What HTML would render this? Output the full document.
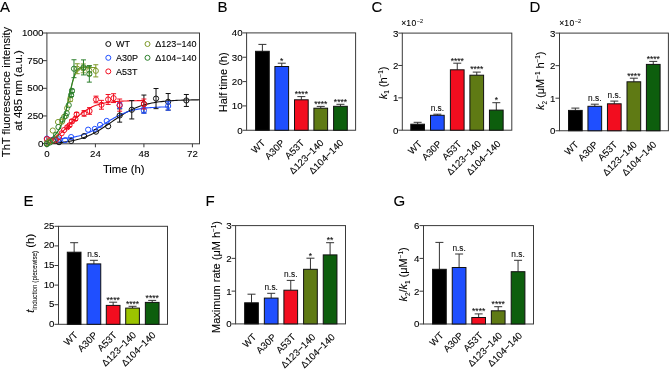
<!DOCTYPE html>
<html><head><meta charset="utf-8"><style>
html,body{margin:0;padding:0;background:#fff;width:670px;height:374px;overflow:hidden}
svg{display:block;font-family:"Liberation Sans", sans-serif;will-change:transform;filter:blur(0.3px)}
text{stroke:#000;stroke-width:0.1px}
tspan[font-size="6.3"],tspan[font-size="5.6"]{stroke-width:0.05px}
</style></head><body>
<svg width="670" height="374" viewBox="0 0 670 374">
<rect width="670" height="374" fill="#fff"/>
<text x="0.00" y="12.00" font-size="15" text-anchor="start" fill="#000" >A</text>
<text x="217.50" y="12.00" font-size="15" text-anchor="start" fill="#000" >B</text>
<text x="371.50" y="12.00" font-size="15" text-anchor="start" fill="#000" >C</text>
<text x="529.50" y="12.00" font-size="15" text-anchor="start" fill="#000" >D</text>
<text x="23.50" y="206.00" font-size="15" text-anchor="start" fill="#000" >E</text>
<text x="205.50" y="206.00" font-size="15" text-anchor="start" fill="#000" >F</text>
<text x="393.50" y="206.00" font-size="15" text-anchor="start" fill="#000" >G</text>
<rect x="246.60" y="32.90" width="109.00" height="97.35" fill="none" stroke="#3a3a3a" stroke-width="1"/>
<line x1="242.60" y1="130.25" x2="246.60" y2="130.25" stroke="#3a3a3a" stroke-width="1"/>
<text x="242.60" y="133.65" font-size="9.7" text-anchor="end" fill="#000" >0</text>
<line x1="242.60" y1="105.91" x2="246.60" y2="105.91" stroke="#3a3a3a" stroke-width="1"/>
<text x="242.60" y="109.31" font-size="9.7" text-anchor="end" fill="#000" >10</text>
<line x1="242.60" y1="81.58" x2="246.60" y2="81.58" stroke="#3a3a3a" stroke-width="1"/>
<text x="242.60" y="84.98" font-size="9.7" text-anchor="end" fill="#000" >20</text>
<line x1="242.60" y1="57.24" x2="246.60" y2="57.24" stroke="#3a3a3a" stroke-width="1"/>
<text x="242.60" y="60.64" font-size="9.7" text-anchor="end" fill="#000" >30</text>
<line x1="242.60" y1="32.90" x2="246.60" y2="32.90" stroke="#3a3a3a" stroke-width="1"/>
<text x="242.60" y="36.30" font-size="9.7" text-anchor="end" fill="#000" >40</text>
<line x1="262.40" y1="51.30" x2="262.40" y2="44.40" stroke="#333" stroke-width="1"/>
<line x1="258.40" y1="44.40" x2="266.40" y2="44.40" stroke="#333" stroke-width="1"/>
<rect x="255.55" y="51.30" width="13.70" height="78.95" fill="#000000" stroke="#111" stroke-width="1"/>
<line x1="281.75" y1="66.50" x2="281.75" y2="63.20" stroke="#333" stroke-width="1"/>
<line x1="277.75" y1="63.20" x2="285.75" y2="63.20" stroke="#333" stroke-width="1"/>
<rect x="274.90" y="66.50" width="13.70" height="63.75" fill="#1f4fff" stroke="#111" stroke-width="1"/>
<text x="281.75" y="63.50" font-size="8.5" text-anchor="middle" fill="#111" >*</text>
<line x1="301.35" y1="99.80" x2="301.35" y2="96.60" stroke="#333" stroke-width="1"/>
<line x1="297.35" y1="96.60" x2="305.35" y2="96.60" stroke="#333" stroke-width="1"/>
<rect x="294.50" y="99.80" width="13.70" height="30.45" fill="#f20d1f" stroke="#111" stroke-width="1"/>
<text x="301.35" y="96.90" font-size="8.5" text-anchor="middle" fill="#111" >****</text>
<line x1="320.75" y1="108.20" x2="320.75" y2="106.40" stroke="#333" stroke-width="1"/>
<line x1="316.75" y1="106.40" x2="324.75" y2="106.40" stroke="#333" stroke-width="1"/>
<rect x="313.90" y="108.20" width="13.70" height="22.05" fill="#5f7a14" stroke="#111" stroke-width="1"/>
<text x="320.75" y="106.70" font-size="8.5" text-anchor="middle" fill="#111" >****</text>
<line x1="340.45" y1="106.30" x2="340.45" y2="104.30" stroke="#333" stroke-width="1"/>
<line x1="336.45" y1="104.30" x2="344.45" y2="104.30" stroke="#333" stroke-width="1"/>
<rect x="333.60" y="106.30" width="13.70" height="23.95" fill="#0d5e0d" stroke="#111" stroke-width="1"/>
<text x="340.45" y="104.60" font-size="8.5" text-anchor="middle" fill="#111" >****</text>
<text x="0" y="0" font-size="9.6" text-anchor="end" transform="translate(265.90,143.55) rotate(-45)">WT</text>
<text x="0" y="0" font-size="9.6" text-anchor="end" transform="translate(285.25,143.55) rotate(-45)">A30P</text>
<text x="0" y="0" font-size="9.6" text-anchor="end" transform="translate(304.85,143.55) rotate(-45)">A53T</text>
<text x="0" y="0" font-size="9.6" text-anchor="end" transform="translate(324.25,143.55) rotate(-45)">&#916;123&#8722;140</text>
<text x="0" y="0" font-size="9.6" text-anchor="end" transform="translate(343.95,143.55) rotate(-45)">&#916;104&#8722;140</text>
<text x="0" y="0" font-size="11" text-anchor="middle" transform="translate(227.20,82.30) rotate(-90)" >Half time (h)</text>
<rect x="402.30" y="33.10" width="109.50" height="97.10" fill="none" stroke="#3a3a3a" stroke-width="1"/>
<line x1="398.30" y1="130.20" x2="402.30" y2="130.20" stroke="#3a3a3a" stroke-width="1"/>
<text x="398.30" y="133.60" font-size="9.7" text-anchor="end" fill="#000" >0</text>
<line x1="398.30" y1="97.83" x2="402.30" y2="97.83" stroke="#3a3a3a" stroke-width="1"/>
<text x="398.30" y="101.23" font-size="9.7" text-anchor="end" fill="#000" >1</text>
<line x1="398.30" y1="65.47" x2="402.30" y2="65.47" stroke="#3a3a3a" stroke-width="1"/>
<text x="398.30" y="68.87" font-size="9.7" text-anchor="end" fill="#000" >2</text>
<line x1="398.30" y1="33.10" x2="402.30" y2="33.10" stroke="#3a3a3a" stroke-width="1"/>
<text x="398.30" y="36.50" font-size="9.7" text-anchor="end" fill="#000" >3</text>
<line x1="417.65" y1="124.20" x2="417.65" y2="122.30" stroke="#333" stroke-width="1"/>
<line x1="413.65" y1="122.30" x2="421.65" y2="122.30" stroke="#333" stroke-width="1"/>
<rect x="410.80" y="124.20" width="13.70" height="6.00" fill="#000000" stroke="#111" stroke-width="1"/>
<line x1="437.35" y1="115.30" x2="437.35" y2="114.20" stroke="#333" stroke-width="1"/>
<line x1="433.35" y1="114.20" x2="441.35" y2="114.20" stroke="#333" stroke-width="1"/>
<rect x="430.50" y="115.30" width="13.70" height="14.90" fill="#1f4fff" stroke="#111" stroke-width="1"/>
<text x="437.35" y="110.70" font-size="8.3" text-anchor="middle" fill="#111" >n.s.</text>
<line x1="457.25" y1="69.80" x2="457.25" y2="63.20" stroke="#333" stroke-width="1"/>
<line x1="453.25" y1="63.20" x2="461.25" y2="63.20" stroke="#333" stroke-width="1"/>
<rect x="450.40" y="69.80" width="13.70" height="60.40" fill="#f20d1f" stroke="#111" stroke-width="1"/>
<text x="457.25" y="63.50" font-size="8.5" text-anchor="middle" fill="#111" >****</text>
<line x1="476.75" y1="75.20" x2="476.75" y2="72.10" stroke="#333" stroke-width="1"/>
<line x1="472.75" y1="72.10" x2="480.75" y2="72.10" stroke="#333" stroke-width="1"/>
<rect x="469.90" y="75.20" width="13.70" height="55.00" fill="#5f7a14" stroke="#111" stroke-width="1"/>
<text x="476.75" y="72.40" font-size="8.5" text-anchor="middle" fill="#111" >****</text>
<line x1="496.30" y1="110.10" x2="496.30" y2="102.70" stroke="#333" stroke-width="1"/>
<line x1="492.30" y1="102.70" x2="500.30" y2="102.70" stroke="#333" stroke-width="1"/>
<rect x="489.45" y="110.10" width="13.70" height="20.10" fill="#0d5e0d" stroke="#111" stroke-width="1"/>
<text x="496.30" y="103.00" font-size="8.5" text-anchor="middle" fill="#111" >*</text>
<text x="0" y="0" font-size="9.6" text-anchor="end" transform="translate(422.65,144.50) rotate(-45)">WT</text>
<text x="0" y="0" font-size="9.6" text-anchor="end" transform="translate(442.35,144.50) rotate(-45)">A30P</text>
<text x="0" y="0" font-size="9.6" text-anchor="end" transform="translate(462.25,144.50) rotate(-45)">A53T</text>
<text x="0" y="0" font-size="9.6" text-anchor="end" transform="translate(481.75,144.50) rotate(-45)">&#916;123&#8722;140</text>
<text x="0" y="0" font-size="9.6" text-anchor="end" transform="translate(501.30,144.50) rotate(-45)">&#916;104&#8722;140</text>
<text x="0" y="0" font-size="11" text-anchor="middle" transform="translate(386.50,83.00) rotate(-90)" ><tspan font-style="italic">k</tspan><tspan font-size="6.3" dy="2.8">1</tspan><tspan dy="-2.8"> (h<tspan font-size="6.3" dy="-4">&#8722;1</tspan><tspan dy="4">)</tspan></tspan></text>
<text x="401.30" y="26.30" font-size="8.5" text-anchor="start" fill="#000" >&#215;<tspan letter-spacing="0.5">10</tspan><tspan font-size="5.6" dy="-3.2">&#8722;2</tspan></text>
<rect x="559.50" y="33.10" width="108.90" height="97.65" fill="none" stroke="#3a3a3a" stroke-width="1"/>
<line x1="555.50" y1="130.75" x2="559.50" y2="130.75" stroke="#3a3a3a" stroke-width="1"/>
<text x="555.50" y="134.15" font-size="9.7" text-anchor="end" fill="#000" >0</text>
<line x1="555.50" y1="98.20" x2="559.50" y2="98.20" stroke="#3a3a3a" stroke-width="1"/>
<text x="555.50" y="101.60" font-size="9.7" text-anchor="end" fill="#000" >1</text>
<line x1="555.50" y1="65.65" x2="559.50" y2="65.65" stroke="#3a3a3a" stroke-width="1"/>
<text x="555.50" y="69.05" font-size="9.7" text-anchor="end" fill="#000" >2</text>
<line x1="555.50" y1="33.10" x2="559.50" y2="33.10" stroke="#3a3a3a" stroke-width="1"/>
<text x="555.50" y="36.50" font-size="9.7" text-anchor="end" fill="#000" >3</text>
<line x1="575.35" y1="110.40" x2="575.35" y2="108.10" stroke="#333" stroke-width="1"/>
<line x1="571.35" y1="108.10" x2="579.35" y2="108.10" stroke="#333" stroke-width="1"/>
<rect x="568.50" y="110.40" width="13.70" height="20.35" fill="#000000" stroke="#111" stroke-width="1"/>
<line x1="594.80" y1="106.30" x2="594.80" y2="104.20" stroke="#333" stroke-width="1"/>
<line x1="590.80" y1="104.20" x2="598.80" y2="104.20" stroke="#333" stroke-width="1"/>
<rect x="587.95" y="106.30" width="13.70" height="24.45" fill="#1f4fff" stroke="#111" stroke-width="1"/>
<text x="594.80" y="100.70" font-size="8.3" text-anchor="middle" fill="#111" >n.s.</text>
<line x1="614.30" y1="103.80" x2="614.30" y2="101.10" stroke="#333" stroke-width="1"/>
<line x1="610.30" y1="101.10" x2="618.30" y2="101.10" stroke="#333" stroke-width="1"/>
<rect x="607.45" y="103.80" width="13.70" height="26.95" fill="#f20d1f" stroke="#111" stroke-width="1"/>
<text x="614.30" y="97.60" font-size="8.3" text-anchor="middle" fill="#111" >n.s.</text>
<line x1="633.85" y1="81.80" x2="633.85" y2="78.20" stroke="#333" stroke-width="1"/>
<line x1="629.85" y1="78.20" x2="637.85" y2="78.20" stroke="#333" stroke-width="1"/>
<rect x="627.00" y="81.80" width="13.70" height="48.95" fill="#5f7a14" stroke="#111" stroke-width="1"/>
<text x="633.85" y="78.50" font-size="8.5" text-anchor="middle" fill="#111" >****</text>
<line x1="653.25" y1="64.40" x2="653.25" y2="61.40" stroke="#333" stroke-width="1"/>
<line x1="649.25" y1="61.40" x2="657.25" y2="61.40" stroke="#333" stroke-width="1"/>
<rect x="646.40" y="64.40" width="13.70" height="66.35" fill="#0d5e0d" stroke="#111" stroke-width="1"/>
<text x="653.25" y="61.70" font-size="8.5" text-anchor="middle" fill="#111" >****</text>
<text x="0" y="0" font-size="9.6" text-anchor="end" transform="translate(579.05,145.25) rotate(-45)">WT</text>
<text x="0" y="0" font-size="9.6" text-anchor="end" transform="translate(598.50,145.25) rotate(-45)">A30P</text>
<text x="0" y="0" font-size="9.6" text-anchor="end" transform="translate(618.00,145.25) rotate(-45)">A53T</text>
<text x="0" y="0" font-size="9.6" text-anchor="end" transform="translate(637.55,145.25) rotate(-45)">&#916;123&#8722;140</text>
<text x="0" y="0" font-size="9.6" text-anchor="end" transform="translate(656.95,145.25) rotate(-45)">&#916;104&#8722;140</text>
<text x="0" y="0" font-size="11" text-anchor="middle" transform="translate(543.70,80.80) rotate(-90)" ><tspan font-style="italic">k</tspan><tspan font-size="6.3" dy="2.8">2</tspan><tspan dy="-2.8"> (&#956;M<tspan font-size="6.3" dy="-4">&#8722;1</tspan><tspan dy="4"> h<tspan font-size="6.3" dy="-4">&#8722;1</tspan><tspan dy="4">)</tspan></tspan></tspan></text>
<text x="559.30" y="26.30" font-size="8.5" text-anchor="start" fill="#000" >&#215;<tspan letter-spacing="0.5">10</tspan><tspan font-size="5.6" dy="-3.2">&#8722;2</tspan></text>
<rect x="58.50" y="226.30" width="109.00" height="98.00" fill="none" stroke="#3a3a3a" stroke-width="1"/>
<line x1="54.50" y1="324.30" x2="58.50" y2="324.30" stroke="#3a3a3a" stroke-width="1"/>
<text x="54.50" y="326.80" font-size="9.7" text-anchor="end" fill="#000" >0</text>
<line x1="54.50" y1="304.70" x2="58.50" y2="304.70" stroke="#3a3a3a" stroke-width="1"/>
<text x="54.50" y="307.20" font-size="9.7" text-anchor="end" fill="#000" >5</text>
<line x1="54.50" y1="285.10" x2="58.50" y2="285.10" stroke="#3a3a3a" stroke-width="1"/>
<text x="54.50" y="287.60" font-size="9.7" text-anchor="end" fill="#000" >10</text>
<line x1="54.50" y1="265.50" x2="58.50" y2="265.50" stroke="#3a3a3a" stroke-width="1"/>
<text x="54.50" y="268.00" font-size="9.7" text-anchor="end" fill="#000" >15</text>
<line x1="54.50" y1="245.90" x2="58.50" y2="245.90" stroke="#3a3a3a" stroke-width="1"/>
<text x="54.50" y="248.40" font-size="9.7" text-anchor="end" fill="#000" >20</text>
<line x1="54.50" y1="226.30" x2="58.50" y2="226.30" stroke="#3a3a3a" stroke-width="1"/>
<text x="54.50" y="228.80" font-size="9.7" text-anchor="end" fill="#000" >25</text>
<line x1="74.15" y1="252.20" x2="74.15" y2="242.70" stroke="#333" stroke-width="1"/>
<line x1="70.15" y1="242.70" x2="78.15" y2="242.70" stroke="#333" stroke-width="1"/>
<rect x="67.30" y="252.20" width="13.70" height="72.10" fill="#000000" stroke="#111" stroke-width="1"/>
<line x1="93.90" y1="263.90" x2="93.90" y2="260.30" stroke="#333" stroke-width="1"/>
<line x1="89.90" y1="260.30" x2="97.90" y2="260.30" stroke="#333" stroke-width="1"/>
<rect x="87.05" y="263.90" width="13.70" height="60.40" fill="#1f4fff" stroke="#111" stroke-width="1"/>
<text x="93.90" y="256.80" font-size="8.3" text-anchor="middle" fill="#111" >n.s.</text>
<line x1="113.15" y1="305.40" x2="113.15" y2="302.20" stroke="#333" stroke-width="1"/>
<line x1="109.15" y1="302.20" x2="117.15" y2="302.20" stroke="#333" stroke-width="1"/>
<rect x="106.30" y="305.40" width="13.70" height="18.90" fill="#f20d1f" stroke="#111" stroke-width="1"/>
<text x="113.15" y="302.50" font-size="8.5" text-anchor="middle" fill="#111" >****</text>
<line x1="132.55" y1="308.10" x2="132.55" y2="306.30" stroke="#333" stroke-width="1"/>
<line x1="128.55" y1="306.30" x2="136.55" y2="306.30" stroke="#333" stroke-width="1"/>
<rect x="125.70" y="308.10" width="13.70" height="16.20" fill="#9cc400" stroke="#111" stroke-width="1"/>
<text x="132.55" y="306.60" font-size="8.5" text-anchor="middle" fill="#111" >****</text>
<line x1="152.20" y1="302.40" x2="152.20" y2="300.40" stroke="#333" stroke-width="1"/>
<line x1="148.20" y1="300.40" x2="156.20" y2="300.40" stroke="#333" stroke-width="1"/>
<rect x="145.35" y="302.40" width="13.70" height="21.90" fill="#0d5e0d" stroke="#111" stroke-width="1"/>
<text x="152.20" y="300.70" font-size="8.5" text-anchor="middle" fill="#111" >****</text>
<text x="0" y="0" font-size="9.6" text-anchor="end" transform="translate(78.35,335.80) rotate(-45)">WT</text>
<text x="0" y="0" font-size="9.6" text-anchor="end" transform="translate(98.10,335.80) rotate(-45)">A30P</text>
<text x="0" y="0" font-size="9.6" text-anchor="end" transform="translate(117.35,335.80) rotate(-45)">A53T</text>
<text x="0" y="0" font-size="9.6" text-anchor="end" transform="translate(136.75,335.80) rotate(-45)">&#916;123&#8722;140</text>
<text x="0" y="0" font-size="9.6" text-anchor="end" transform="translate(156.40,335.80) rotate(-45)">&#916;104&#8722;140</text>
<text x="0" y="0" font-size="11.4" text-anchor="middle" transform="translate(34.00,273.30) rotate(-90)" ><tspan font-style="italic">t</tspan><tspan font-size="6.3" dy="2.8">induction (piecewise)</tspan><tspan dy="-2.8"> (h)</tspan></text>
<rect x="235.60" y="225.60" width="109.90" height="98.30" fill="none" stroke="#3a3a3a" stroke-width="1"/>
<line x1="231.60" y1="323.90" x2="235.60" y2="323.90" stroke="#3a3a3a" stroke-width="1"/>
<text x="231.60" y="327.30" font-size="9.7" text-anchor="end" fill="#000" >0</text>
<line x1="231.60" y1="291.13" x2="235.60" y2="291.13" stroke="#3a3a3a" stroke-width="1"/>
<text x="231.60" y="294.53" font-size="9.7" text-anchor="end" fill="#000" >1</text>
<line x1="231.60" y1="258.37" x2="235.60" y2="258.37" stroke="#3a3a3a" stroke-width="1"/>
<text x="231.60" y="261.77" font-size="9.7" text-anchor="end" fill="#000" >2</text>
<line x1="231.60" y1="225.60" x2="235.60" y2="225.60" stroke="#3a3a3a" stroke-width="1"/>
<text x="231.60" y="229.00" font-size="9.7" text-anchor="end" fill="#000" >3</text>
<line x1="251.50" y1="302.80" x2="251.50" y2="294.20" stroke="#333" stroke-width="1"/>
<line x1="247.50" y1="294.20" x2="255.50" y2="294.20" stroke="#333" stroke-width="1"/>
<rect x="244.65" y="302.80" width="13.70" height="21.10" fill="#000000" stroke="#111" stroke-width="1"/>
<line x1="271.20" y1="298.10" x2="271.20" y2="293.30" stroke="#333" stroke-width="1"/>
<line x1="267.20" y1="293.30" x2="275.20" y2="293.30" stroke="#333" stroke-width="1"/>
<rect x="264.35" y="298.10" width="13.70" height="25.80" fill="#1f4fff" stroke="#111" stroke-width="1"/>
<text x="271.20" y="289.80" font-size="8.3" text-anchor="middle" fill="#111" >n.s.</text>
<line x1="290.75" y1="290.20" x2="290.75" y2="280.40" stroke="#333" stroke-width="1"/>
<line x1="286.75" y1="280.40" x2="294.75" y2="280.40" stroke="#333" stroke-width="1"/>
<rect x="283.90" y="290.20" width="13.70" height="33.70" fill="#f20d1f" stroke="#111" stroke-width="1"/>
<text x="290.75" y="276.90" font-size="8.3" text-anchor="middle" fill="#111" >n.s.</text>
<line x1="310.45" y1="269.30" x2="310.45" y2="258.20" stroke="#333" stroke-width="1"/>
<line x1="306.45" y1="258.20" x2="314.45" y2="258.20" stroke="#333" stroke-width="1"/>
<rect x="303.60" y="269.30" width="13.70" height="54.60" fill="#5f7a14" stroke="#111" stroke-width="1"/>
<text x="310.45" y="258.50" font-size="8.5" text-anchor="middle" fill="#111" >*</text>
<line x1="330.10" y1="254.90" x2="330.10" y2="242.70" stroke="#333" stroke-width="1"/>
<line x1="326.10" y1="242.70" x2="334.10" y2="242.70" stroke="#333" stroke-width="1"/>
<rect x="323.25" y="254.90" width="13.70" height="69.00" fill="#0d5e0d" stroke="#111" stroke-width="1"/>
<text x="330.10" y="243.00" font-size="8.5" text-anchor="middle" fill="#111" >**</text>
<text x="0" y="0" font-size="9.6" text-anchor="end" transform="translate(257.00,337.70) rotate(-45)">WT</text>
<text x="0" y="0" font-size="9.6" text-anchor="end" transform="translate(276.70,337.70) rotate(-45)">A30P</text>
<text x="0" y="0" font-size="9.6" text-anchor="end" transform="translate(296.25,337.70) rotate(-45)">A53T</text>
<text x="0" y="0" font-size="9.6" text-anchor="end" transform="translate(315.95,337.70) rotate(-45)">&#916;123&#8722;140</text>
<text x="0" y="0" font-size="9.6" text-anchor="end" transform="translate(335.60,337.70) rotate(-45)">&#916;104&#8722;140</text>
<text x="0" y="0" font-size="11" text-anchor="middle" transform="translate(220.00,277.00) rotate(-90)" >Maximum rate (&#956;M h<tspan font-size="6.3" dy="-4">&#8722;1</tspan><tspan dy="4">)</tspan></text>
<rect x="423.50" y="225.60" width="110.00" height="98.40" fill="none" stroke="#3a3a3a" stroke-width="1"/>
<line x1="419.50" y1="324.00" x2="423.50" y2="324.00" stroke="#3a3a3a" stroke-width="1"/>
<text x="419.50" y="327.40" font-size="9.7" text-anchor="end" fill="#000" >0</text>
<line x1="419.50" y1="291.20" x2="423.50" y2="291.20" stroke="#3a3a3a" stroke-width="1"/>
<text x="419.50" y="294.60" font-size="9.7" text-anchor="end" fill="#000" >2</text>
<line x1="419.50" y1="258.40" x2="423.50" y2="258.40" stroke="#3a3a3a" stroke-width="1"/>
<text x="419.50" y="261.80" font-size="9.7" text-anchor="end" fill="#000" >4</text>
<line x1="419.50" y1="225.60" x2="423.50" y2="225.60" stroke="#3a3a3a" stroke-width="1"/>
<text x="419.50" y="229.00" font-size="9.7" text-anchor="end" fill="#000" >6</text>
<line x1="439.40" y1="269.30" x2="439.40" y2="242.40" stroke="#333" stroke-width="1"/>
<line x1="435.40" y1="242.40" x2="443.40" y2="242.40" stroke="#333" stroke-width="1"/>
<rect x="432.55" y="269.30" width="13.70" height="54.70" fill="#000000" stroke="#111" stroke-width="1"/>
<line x1="459.10" y1="267.50" x2="459.10" y2="254.00" stroke="#333" stroke-width="1"/>
<line x1="455.10" y1="254.00" x2="463.10" y2="254.00" stroke="#333" stroke-width="1"/>
<rect x="452.25" y="267.50" width="13.70" height="56.50" fill="#1f4fff" stroke="#111" stroke-width="1"/>
<text x="459.10" y="250.50" font-size="8.3" text-anchor="middle" fill="#111" >n.s.</text>
<line x1="478.65" y1="317.50" x2="478.65" y2="313.90" stroke="#333" stroke-width="1"/>
<line x1="474.65" y1="313.90" x2="482.65" y2="313.90" stroke="#333" stroke-width="1"/>
<rect x="471.80" y="317.50" width="13.70" height="6.50" fill="#f20d1f" stroke="#111" stroke-width="1"/>
<text x="478.65" y="314.20" font-size="8.5" text-anchor="middle" fill="#111" >****</text>
<line x1="498.20" y1="310.80" x2="498.20" y2="306.70" stroke="#333" stroke-width="1"/>
<line x1="494.20" y1="306.70" x2="502.20" y2="306.70" stroke="#333" stroke-width="1"/>
<rect x="491.35" y="310.80" width="13.70" height="13.20" fill="#5f7a14" stroke="#111" stroke-width="1"/>
<text x="498.20" y="307.00" font-size="8.5" text-anchor="middle" fill="#111" >****</text>
<line x1="518.05" y1="271.70" x2="518.05" y2="260.30" stroke="#333" stroke-width="1"/>
<line x1="514.05" y1="260.30" x2="522.05" y2="260.30" stroke="#333" stroke-width="1"/>
<rect x="511.20" y="271.70" width="13.70" height="52.30" fill="#0d5e0d" stroke="#111" stroke-width="1"/>
<text x="518.05" y="256.80" font-size="8.3" text-anchor="middle" fill="#111" >n.s.</text>
<text x="0" y="0" font-size="9.6" text-anchor="end" transform="translate(444.10,336.10) rotate(-45)">WT</text>
<text x="0" y="0" font-size="9.6" text-anchor="end" transform="translate(463.80,336.10) rotate(-45)">A30P</text>
<text x="0" y="0" font-size="9.6" text-anchor="end" transform="translate(483.35,336.10) rotate(-45)">A53T</text>
<text x="0" y="0" font-size="9.6" text-anchor="end" transform="translate(502.90,336.10) rotate(-45)">&#916;123&#8722;140</text>
<text x="0" y="0" font-size="9.6" text-anchor="end" transform="translate(522.75,336.10) rotate(-45)">&#916;104&#8722;140</text>
<text x="0" y="0" font-size="11" text-anchor="middle" transform="translate(406.70,274.50) rotate(-90)" ><tspan font-style="italic">k</tspan><tspan font-size="6.3" dy="2.8">2</tspan><tspan dy="-2.8">/<tspan font-style="italic">k</tspan><tspan font-size="6.3" dy="2.8">1</tspan><tspan dy="-2.8"> (&#956;M<tspan font-size="6.3" dy="-4">&#8722;1</tspan><tspan dy="4">)</tspan></tspan></tspan></text>
<rect x="46.9" y="33.0" width="152.60" height="110.80" fill="none" stroke="#3a3a3a" stroke-width="1"/>
<line x1="42.90" y1="143.60" x2="46.90" y2="143.60" stroke="#3a3a3a" stroke-width="1"/>
<text x="43.50" y="146.60" font-size="9.7" text-anchor="end" fill="#000" >0</text>
<line x1="42.90" y1="115.95" x2="46.90" y2="115.95" stroke="#3a3a3a" stroke-width="1"/>
<text x="43.50" y="118.95" font-size="9.7" text-anchor="end" fill="#000" >250</text>
<line x1="42.90" y1="88.30" x2="46.90" y2="88.30" stroke="#3a3a3a" stroke-width="1"/>
<text x="43.50" y="91.30" font-size="9.7" text-anchor="end" fill="#000" >500</text>
<line x1="42.90" y1="60.65" x2="46.90" y2="60.65" stroke="#3a3a3a" stroke-width="1"/>
<text x="43.50" y="63.65" font-size="9.7" text-anchor="end" fill="#000" >750</text>
<line x1="42.90" y1="33.00" x2="46.90" y2="33.00" stroke="#3a3a3a" stroke-width="1"/>
<text x="43.50" y="36.00" font-size="9.7" text-anchor="end" fill="#000" >1000</text>
<line x1="46.90" y1="143.80" x2="46.90" y2="147.30" stroke="#3a3a3a" stroke-width="1"/>
<text x="46.90" y="156.70" font-size="9.7" text-anchor="middle" fill="#000" >0</text>
<line x1="95.40" y1="143.80" x2="95.40" y2="147.30" stroke="#3a3a3a" stroke-width="1"/>
<text x="95.40" y="156.70" font-size="9.7" text-anchor="middle" fill="#000" >24</text>
<line x1="143.91" y1="143.80" x2="143.91" y2="147.30" stroke="#3a3a3a" stroke-width="1"/>
<text x="143.91" y="156.70" font-size="9.7" text-anchor="middle" fill="#000" >48</text>
<line x1="192.41" y1="143.80" x2="192.41" y2="147.30" stroke="#3a3a3a" stroke-width="1"/>
<text x="192.41" y="156.70" font-size="9.7" text-anchor="middle" fill="#000" >72</text>
<text x="123.70" y="172.50" font-size="11.3" text-anchor="middle" fill="#000" >Time (h)</text>
<text x="0" y="0" font-size="11.2" text-anchor="middle" transform="translate(9.90,92.00) rotate(-90)" >ThT fluorescence intensity</text>
<text x="0" y="0" font-size="11.4" text-anchor="middle" transform="translate(22.20,90.50) rotate(-90)" >at 485 nm (a.u.)</text>
<polyline points="46.90,143.60 48.81,143.50 50.71,143.39 52.62,143.27 54.53,143.13 56.44,142.97 58.34,142.80 60.25,142.61 62.16,142.39 64.07,142.15 65.97,141.89 67.88,141.59 69.79,141.26 71.70,140.90 73.60,140.50 75.51,140.06 77.42,139.57 79.32,139.04 81.23,138.46 83.14,137.82 85.05,137.13 86.95,136.38 88.86,135.58 90.77,134.71 92.68,133.79 94.58,132.80 96.49,131.76 98.40,130.66 100.30,129.51 102.21,128.32 104.12,127.08 106.03,125.81 107.93,124.52 109.84,123.21 111.75,121.89 113.66,120.57 115.56,119.26 117.47,117.97 119.38,116.71 121.29,115.48 123.19,114.29 125.10,113.15 127.01,112.06 128.91,111.03 130.82,110.06 132.73,109.14 134.64,108.29 136.54,107.49 138.45,106.75 140.36,106.07 142.27,105.45 144.17,104.88 146.08,104.35 147.99,103.87 149.90,103.44 151.80,103.05 153.71,102.69 155.62,102.37 157.52,102.08 159.43,101.82 161.34,101.58 163.25,101.37 165.15,101.18 167.06,101.02 168.97,100.86 170.88,100.73 172.78,100.61 174.69,100.50 176.60,100.40 178.50,100.31 180.41,100.24 182.32,100.17 184.23,100.11 186.13,100.05 188.04,100.00 189.95,99.96 191.86,99.92 193.76,99.89 195.67,99.86 197.58,99.83 199.49,99.81" fill="none" stroke="#111" stroke-width="1.1"/>
<polyline points="46.90,139.40 48.42,139.35 49.95,139.30 51.47,139.24 52.99,139.18 54.52,139.11 56.04,139.03 57.56,138.94 59.09,138.83 60.61,138.72 62.13,138.60 63.66,138.46 65.18,138.30 66.70,138.13 68.23,137.94 69.75,137.73 71.27,137.49 72.80,137.24 74.32,136.95 75.84,136.64 77.37,136.29 78.89,135.91 80.41,135.50 81.94,135.05 83.46,134.56 84.98,134.03 86.51,133.45 88.03,132.84 89.55,132.18 91.08,131.48 92.60,130.74 94.12,129.96 95.65,129.14 97.17,128.28 98.69,127.40 100.22,126.48 101.74,125.55 103.26,124.60 104.79,123.64 106.31,122.68 107.83,121.72 109.36,120.77 110.88,119.84 112.40,118.93 113.93,118.05 115.45,117.19 116.97,116.37 118.50,115.59 120.02,114.85 121.54,114.16 123.07,113.50 124.59,112.89 126.11,112.32 127.64,111.79 129.16,111.30 130.68,110.85 132.21,110.44 133.73,110.06 135.25,109.72 136.78,109.41 138.30,109.12 139.82,108.86 141.35,108.63 142.87,108.42 144.39,108.23 145.92,108.06 147.44,107.91 148.96,107.77 150.49,107.64 152.01,107.53 153.53,107.43 155.06,107.34 156.58,107.26 158.10,107.19 159.63,107.13 161.15,107.07 162.67,107.02 164.20,106.97 165.72,106.93 167.24,106.90 168.77,106.86" fill="none" stroke="#1f4fff" stroke-width="1.1"/>
<polyline points="46.90,141.02 48.13,140.62 49.35,140.16 50.58,139.65 51.80,139.09 53.03,138.46 54.25,137.77 55.48,137.02 56.70,136.20 57.93,135.32 59.15,134.38 60.38,133.38 61.60,132.33 62.83,131.23 64.05,130.09 65.28,128.91 66.50,127.70 67.73,126.47 68.95,125.22 70.18,123.97 71.40,122.73 72.63,121.49 73.86,120.27 75.08,119.08 76.31,117.92 77.53,116.79 78.76,115.70 79.98,114.65 81.21,113.65 82.43,112.70 83.66,111.80 84.88,110.94 86.11,110.14 87.33,109.38 88.56,108.67 89.78,108.01 91.01,107.40 92.23,106.82 93.46,106.29 94.68,105.80 95.91,105.35 97.13,104.93 98.36,104.54 99.58,104.19 100.81,103.86 102.04,103.56 103.26,103.29 104.49,103.04 105.71,102.81 106.94,102.60 108.16,102.41 109.39,102.23 110.61,102.07 111.84,101.93 113.06,101.79 114.29,101.67 115.51,101.56 116.74,101.46 117.96,101.37 119.19,101.29 120.41,101.21 121.64,101.14 122.86,101.08 124.09,101.02 125.31,100.97 126.54,100.93 127.77,100.88 128.99,100.84 130.22,100.81 131.44,100.78 132.67,100.75 133.89,100.72 135.12,100.70 136.34,100.68 137.57,100.66 138.79,100.64 140.02,100.62 141.24,100.61 142.47,100.60 143.69,100.58 144.92,100.57" fill="none" stroke="#f20d1f" stroke-width="1.1"/>
<polyline points="46.90,140.49 47.52,140.24 48.14,139.97 48.76,139.68 49.38,139.36 49.99,139.02 50.61,138.65 51.23,138.25 51.85,137.81 52.47,137.35 53.09,136.84 53.71,136.30 54.33,135.71 54.95,135.07 55.57,134.38 56.18,133.64 56.80,132.83 57.42,131.97 58.04,131.03 58.66,130.02 59.28,128.93 59.90,127.75 60.52,126.48 61.14,125.12 61.75,123.64 62.37,122.06 62.99,120.37 63.61,118.55 64.23,116.61 64.85,114.53 65.47,112.33 66.09,110.00 66.71,107.55 67.32,104.98 67.94,102.32 68.56,99.58 69.18,96.79 69.80,93.98 70.42,91.20 71.04,88.48 71.66,85.87 72.28,83.40 72.90,81.12 73.51,79.04 74.13,77.18 74.75,75.55 75.37,74.14 75.99,72.94 76.61,71.93 77.23,71.08 77.85,70.39 78.47,69.82 79.08,69.36 79.70,68.98 80.32,68.68 80.94,68.44 81.56,68.25 82.18,68.10 82.80,67.97 83.42,67.88 84.04,67.80 84.65,67.74 85.27,67.69 85.89,67.65 86.51,67.62 87.13,67.60 87.75,67.58 88.37,67.56 88.99,67.55 89.61,67.54 90.23,67.54 90.84,67.53 91.46,67.52 92.08,67.52 92.70,67.52 93.32,67.52 93.94,67.51 94.56,67.51 95.18,67.51 95.80,67.51 96.41,67.51" fill="none" stroke="#7f9a2a" stroke-width="1.1"/>
<polyline points="46.90,140.43 47.46,140.20 48.01,139.96 48.57,139.70 49.12,139.42 49.68,139.13 50.23,138.81 50.79,138.47 51.35,138.10 51.90,137.71 52.46,137.29 53.01,136.84 53.57,136.36 54.13,135.85 54.68,135.29 55.24,134.70 55.79,134.07 56.35,133.39 56.90,132.67 57.46,131.89 58.02,131.06 58.57,130.17 59.13,129.22 59.68,128.20 60.24,127.11 60.79,125.94 61.35,124.70 61.91,123.37 62.46,121.95 63.02,120.43 63.57,118.82 64.13,117.10 64.68,115.28 65.24,113.35 65.80,111.30 66.35,109.15 66.91,106.90 67.46,104.54 68.02,102.09 68.58,99.57 69.13,96.99 69.69,94.38 70.24,91.76 70.80,89.18 71.35,86.66 71.91,84.24 72.47,81.96 73.02,79.83 73.58,77.90 74.13,76.16 74.69,74.62 75.24,73.28 75.80,72.13 76.36,71.16 76.91,70.34 77.47,69.66 78.02,69.10 78.58,68.64 79.13,68.27 79.69,67.96 80.25,67.72 80.80,67.52 81.36,67.36 81.91,67.24 82.47,67.13 83.03,67.05 83.58,66.99 84.14,66.94 84.69,66.89 85.25,66.86 85.80,66.84 86.36,66.81 86.92,66.80 87.47,66.78 88.03,66.77 88.58,66.77 89.14,66.76 89.69,66.75 90.25,66.75 90.81,66.75 91.36,66.74" fill="none" stroke="#2b7f2b" stroke-width="1.1"/>
<line x1="119.66" y1="122.14" x2="119.66" y2="108.87" stroke="#111" stroke-width="1"/>
<line x1="117.16" y1="108.87" x2="122.16" y2="108.87" stroke="#111" stroke-width="1"/>
<line x1="117.16" y1="122.14" x2="122.16" y2="122.14" stroke="#111" stroke-width="1"/>
<line x1="131.78" y1="118.94" x2="131.78" y2="100.58" stroke="#111" stroke-width="1"/>
<line x1="129.28" y1="100.58" x2="134.28" y2="100.58" stroke="#111" stroke-width="1"/>
<line x1="129.28" y1="118.94" x2="134.28" y2="118.94" stroke="#111" stroke-width="1"/>
<line x1="143.91" y1="112.96" x2="143.91" y2="95.05" stroke="#111" stroke-width="1"/>
<line x1="141.41" y1="95.05" x2="146.41" y2="95.05" stroke="#111" stroke-width="1"/>
<line x1="141.41" y1="112.96" x2="146.41" y2="112.96" stroke="#111" stroke-width="1"/>
<line x1="156.03" y1="108.65" x2="156.03" y2="88.52" stroke="#111" stroke-width="1"/>
<line x1="153.53" y1="88.52" x2="158.53" y2="88.52" stroke="#111" stroke-width="1"/>
<line x1="153.53" y1="108.65" x2="158.53" y2="108.65" stroke="#111" stroke-width="1"/>
<line x1="168.16" y1="110.09" x2="168.16" y2="93.50" stroke="#111" stroke-width="1"/>
<line x1="165.66" y1="93.50" x2="170.66" y2="93.50" stroke="#111" stroke-width="1"/>
<line x1="165.66" y1="110.09" x2="170.66" y2="110.09" stroke="#111" stroke-width="1"/>
<line x1="186.35" y1="106.44" x2="186.35" y2="94.49" stroke="#111" stroke-width="1"/>
<line x1="183.85" y1="94.49" x2="188.85" y2="94.49" stroke="#111" stroke-width="1"/>
<line x1="183.85" y1="106.44" x2="188.85" y2="106.44" stroke="#111" stroke-width="1"/>
<circle cx="46.90" cy="143.49" r="2.6" fill="none" stroke="#111" stroke-width="1"/>
<circle cx="59.03" cy="142.16" r="2.6" fill="none" stroke="#111" stroke-width="1"/>
<circle cx="71.15" cy="140.95" r="2.6" fill="none" stroke="#111" stroke-width="1"/>
<circle cx="84.09" cy="136.08" r="2.6" fill="none" stroke="#111" stroke-width="1"/>
<circle cx="96.01" cy="131.66" r="2.6" fill="none" stroke="#111" stroke-width="1"/>
<circle cx="108.14" cy="126.24" r="2.6" fill="none" stroke="#111" stroke-width="1"/>
<circle cx="119.66" cy="115.51" r="2.6" fill="none" stroke="#111" stroke-width="1"/>
<circle cx="131.78" cy="109.76" r="2.6" fill="none" stroke="#111" stroke-width="1"/>
<circle cx="143.91" cy="104.01" r="2.6" fill="none" stroke="#111" stroke-width="1"/>
<circle cx="156.03" cy="98.59" r="2.6" fill="none" stroke="#111" stroke-width="1"/>
<circle cx="168.16" cy="101.79" r="2.6" fill="none" stroke="#111" stroke-width="1"/>
<circle cx="186.35" cy="100.47" r="2.6" fill="none" stroke="#111" stroke-width="1"/>
<line x1="119.66" y1="108.21" x2="119.66" y2="102.68" stroke="#1f4fff" stroke-width="1"/>
<line x1="117.16" y1="102.68" x2="122.16" y2="102.68" stroke="#1f4fff" stroke-width="1"/>
<line x1="117.16" y1="108.21" x2="122.16" y2="108.21" stroke="#1f4fff" stroke-width="1"/>
<line x1="143.91" y1="113.18" x2="143.91" y2="107.66" stroke="#1f4fff" stroke-width="1"/>
<line x1="141.41" y1="107.66" x2="146.41" y2="107.66" stroke="#1f4fff" stroke-width="1"/>
<line x1="141.41" y1="113.18" x2="146.41" y2="113.18" stroke="#1f4fff" stroke-width="1"/>
<line x1="168.16" y1="110.20" x2="168.16" y2="101.79" stroke="#1f4fff" stroke-width="1"/>
<line x1="165.66" y1="101.79" x2="170.66" y2="101.79" stroke="#1f4fff" stroke-width="1"/>
<line x1="165.66" y1="110.20" x2="170.66" y2="110.20" stroke="#1f4fff" stroke-width="1"/>
<circle cx="46.90" cy="138.62" r="2.6" fill="none" stroke="#1f4fff" stroke-width="1"/>
<circle cx="52.96" cy="139.84" r="2.6" fill="none" stroke="#1f4fff" stroke-width="1"/>
<circle cx="59.03" cy="139.40" r="2.6" fill="none" stroke="#1f4fff" stroke-width="1"/>
<circle cx="65.09" cy="140.17" r="2.6" fill="none" stroke="#1f4fff" stroke-width="1"/>
<circle cx="71.15" cy="137.07" r="2.6" fill="none" stroke="#1f4fff" stroke-width="1"/>
<circle cx="88.13" cy="129.66" r="2.6" fill="none" stroke="#1f4fff" stroke-width="1"/>
<circle cx="94.80" cy="128.89" r="2.6" fill="none" stroke="#1f4fff" stroke-width="1"/>
<circle cx="100.05" cy="124.91" r="2.6" fill="none" stroke="#1f4fff" stroke-width="1"/>
<circle cx="106.72" cy="120.93" r="2.6" fill="none" stroke="#1f4fff" stroke-width="1"/>
<circle cx="119.66" cy="105.44" r="2.6" fill="none" stroke="#1f4fff" stroke-width="1"/>
<circle cx="143.91" cy="110.42" r="2.6" fill="none" stroke="#1f4fff" stroke-width="1"/>
<circle cx="168.16" cy="106.00" r="2.6" fill="none" stroke="#1f4fff" stroke-width="1"/>
<line x1="67.31" y1="128.56" x2="67.31" y2="125.90" stroke="#f20d1f" stroke-width="1"/>
<line x1="64.81" y1="125.90" x2="69.81" y2="125.90" stroke="#f20d1f" stroke-width="1"/>
<line x1="64.81" y1="128.56" x2="69.81" y2="128.56" stroke="#f20d1f" stroke-width="1"/>
<line x1="69.54" y1="126.57" x2="69.54" y2="123.91" stroke="#f20d1f" stroke-width="1"/>
<line x1="67.04" y1="123.91" x2="72.04" y2="123.91" stroke="#f20d1f" stroke-width="1"/>
<line x1="67.04" y1="126.57" x2="72.04" y2="126.57" stroke="#f20d1f" stroke-width="1"/>
<line x1="71.96" y1="122.92" x2="71.96" y2="119.60" stroke="#f20d1f" stroke-width="1"/>
<line x1="69.46" y1="119.60" x2="74.46" y2="119.60" stroke="#f20d1f" stroke-width="1"/>
<line x1="69.46" y1="122.92" x2="74.46" y2="122.92" stroke="#f20d1f" stroke-width="1"/>
<line x1="75.40" y1="120.48" x2="75.40" y2="117.17" stroke="#f20d1f" stroke-width="1"/>
<line x1="72.90" y1="117.17" x2="77.90" y2="117.17" stroke="#f20d1f" stroke-width="1"/>
<line x1="72.90" y1="120.48" x2="77.90" y2="120.48" stroke="#f20d1f" stroke-width="1"/>
<line x1="76.61" y1="116.39" x2="76.61" y2="112.41" stroke="#f20d1f" stroke-width="1"/>
<line x1="74.11" y1="112.41" x2="79.11" y2="112.41" stroke="#f20d1f" stroke-width="1"/>
<line x1="74.11" y1="116.39" x2="79.11" y2="116.39" stroke="#f20d1f" stroke-width="1"/>
<line x1="84.09" y1="116.17" x2="84.09" y2="110.64" stroke="#f20d1f" stroke-width="1"/>
<line x1="81.59" y1="110.64" x2="86.59" y2="110.64" stroke="#f20d1f" stroke-width="1"/>
<line x1="81.59" y1="116.17" x2="86.59" y2="116.17" stroke="#f20d1f" stroke-width="1"/>
<line x1="89.54" y1="114.29" x2="89.54" y2="107.66" stroke="#f20d1f" stroke-width="1"/>
<line x1="87.04" y1="107.66" x2="92.04" y2="107.66" stroke="#f20d1f" stroke-width="1"/>
<line x1="87.04" y1="114.29" x2="92.04" y2="114.29" stroke="#f20d1f" stroke-width="1"/>
<line x1="96.01" y1="102.79" x2="96.01" y2="96.15" stroke="#f20d1f" stroke-width="1"/>
<line x1="93.51" y1="96.15" x2="98.51" y2="96.15" stroke="#f20d1f" stroke-width="1"/>
<line x1="93.51" y1="102.79" x2="98.51" y2="102.79" stroke="#f20d1f" stroke-width="1"/>
<line x1="101.47" y1="109.20" x2="101.47" y2="100.36" stroke="#f20d1f" stroke-width="1"/>
<line x1="98.97" y1="100.36" x2="103.97" y2="100.36" stroke="#f20d1f" stroke-width="1"/>
<line x1="98.97" y1="109.20" x2="103.97" y2="109.20" stroke="#f20d1f" stroke-width="1"/>
<line x1="108.14" y1="104.45" x2="108.14" y2="94.49" stroke="#f20d1f" stroke-width="1"/>
<line x1="105.64" y1="94.49" x2="110.64" y2="94.49" stroke="#f20d1f" stroke-width="1"/>
<line x1="105.64" y1="104.45" x2="110.64" y2="104.45" stroke="#f20d1f" stroke-width="1"/>
<line x1="113.59" y1="102.57" x2="113.59" y2="93.72" stroke="#f20d1f" stroke-width="1"/>
<line x1="111.09" y1="93.72" x2="116.09" y2="93.72" stroke="#f20d1f" stroke-width="1"/>
<line x1="111.09" y1="102.57" x2="116.09" y2="102.57" stroke="#f20d1f" stroke-width="1"/>
<line x1="119.66" y1="111.19" x2="119.66" y2="99.03" stroke="#f20d1f" stroke-width="1"/>
<line x1="117.16" y1="99.03" x2="122.16" y2="99.03" stroke="#f20d1f" stroke-width="1"/>
<line x1="117.16" y1="111.19" x2="122.16" y2="111.19" stroke="#f20d1f" stroke-width="1"/>
<line x1="143.91" y1="108.98" x2="143.91" y2="99.03" stroke="#f20d1f" stroke-width="1"/>
<line x1="141.41" y1="99.03" x2="146.41" y2="99.03" stroke="#f20d1f" stroke-width="1"/>
<line x1="141.41" y1="108.98" x2="146.41" y2="108.98" stroke="#f20d1f" stroke-width="1"/>
<circle cx="46.90" cy="139.07" r="2.6" fill="none" stroke="#f20d1f" stroke-width="1"/>
<circle cx="49.93" cy="140.28" r="2.6" fill="none" stroke="#f20d1f" stroke-width="1"/>
<circle cx="52.96" cy="140.61" r="2.6" fill="none" stroke="#f20d1f" stroke-width="1"/>
<circle cx="55.99" cy="139.73" r="2.6" fill="none" stroke="#f20d1f" stroke-width="1"/>
<circle cx="59.03" cy="136.96" r="2.6" fill="none" stroke="#f20d1f" stroke-width="1"/>
<circle cx="61.65" cy="133.31" r="2.6" fill="none" stroke="#f20d1f" stroke-width="1"/>
<circle cx="64.08" cy="130.11" r="2.6" fill="none" stroke="#f20d1f" stroke-width="1"/>
<circle cx="67.31" cy="127.23" r="2.6" fill="none" stroke="#f20d1f" stroke-width="1"/>
<circle cx="69.54" cy="125.24" r="2.6" fill="none" stroke="#f20d1f" stroke-width="1"/>
<circle cx="71.96" cy="121.26" r="2.6" fill="none" stroke="#f20d1f" stroke-width="1"/>
<circle cx="75.40" cy="118.83" r="2.6" fill="none" stroke="#f20d1f" stroke-width="1"/>
<circle cx="76.61" cy="114.40" r="2.6" fill="none" stroke="#f20d1f" stroke-width="1"/>
<circle cx="84.09" cy="113.41" r="2.6" fill="none" stroke="#f20d1f" stroke-width="1"/>
<circle cx="89.54" cy="110.97" r="2.6" fill="none" stroke="#f20d1f" stroke-width="1"/>
<circle cx="96.01" cy="99.47" r="2.6" fill="none" stroke="#f20d1f" stroke-width="1"/>
<circle cx="101.47" cy="104.78" r="2.6" fill="none" stroke="#f20d1f" stroke-width="1"/>
<circle cx="108.14" cy="99.47" r="2.6" fill="none" stroke="#f20d1f" stroke-width="1"/>
<circle cx="113.59" cy="98.14" r="2.6" fill="none" stroke="#f20d1f" stroke-width="1"/>
<circle cx="119.66" cy="105.11" r="2.6" fill="none" stroke="#f20d1f" stroke-width="1"/>
<circle cx="143.91" cy="104.01" r="2.6" fill="none" stroke="#f20d1f" stroke-width="1"/>
<line x1="70.14" y1="101.57" x2="70.14" y2="97.15" stroke="#7f9a2a" stroke-width="1"/>
<line x1="67.64" y1="97.15" x2="72.64" y2="97.15" stroke="#7f9a2a" stroke-width="1"/>
<line x1="67.64" y1="101.57" x2="72.64" y2="101.57" stroke="#7f9a2a" stroke-width="1"/>
<line x1="77.22" y1="73.70" x2="77.22" y2="63.75" stroke="#7f9a2a" stroke-width="1"/>
<line x1="74.72" y1="63.75" x2="79.72" y2="63.75" stroke="#7f9a2a" stroke-width="1"/>
<line x1="74.72" y1="73.70" x2="79.72" y2="73.70" stroke="#7f9a2a" stroke-width="1"/>
<line x1="83.28" y1="72.82" x2="83.28" y2="63.97" stroke="#7f9a2a" stroke-width="1"/>
<line x1="80.78" y1="63.97" x2="85.78" y2="63.97" stroke="#7f9a2a" stroke-width="1"/>
<line x1="80.78" y1="72.82" x2="85.78" y2="72.82" stroke="#7f9a2a" stroke-width="1"/>
<line x1="89.34" y1="75.58" x2="89.34" y2="65.63" stroke="#7f9a2a" stroke-width="1"/>
<line x1="86.84" y1="65.63" x2="91.84" y2="65.63" stroke="#7f9a2a" stroke-width="1"/>
<line x1="86.84" y1="75.58" x2="91.84" y2="75.58" stroke="#7f9a2a" stroke-width="1"/>
<line x1="95.81" y1="76.91" x2="95.81" y2="64.74" stroke="#7f9a2a" stroke-width="1"/>
<line x1="93.31" y1="64.74" x2="98.31" y2="64.74" stroke="#7f9a2a" stroke-width="1"/>
<line x1="93.31" y1="76.91" x2="98.31" y2="76.91" stroke="#7f9a2a" stroke-width="1"/>
<circle cx="46.90" cy="143.05" r="2.6" fill="none" stroke="#7f9a2a" stroke-width="1"/>
<circle cx="49.93" cy="141.39" r="2.6" fill="none" stroke="#7f9a2a" stroke-width="1"/>
<circle cx="52.76" cy="130.55" r="2.6" fill="none" stroke="#7f9a2a" stroke-width="1"/>
<circle cx="58.02" cy="122.03" r="2.6" fill="none" stroke="#7f9a2a" stroke-width="1"/>
<circle cx="62.06" cy="121.59" r="2.6" fill="none" stroke="#7f9a2a" stroke-width="1"/>
<circle cx="64.08" cy="116.83" r="2.6" fill="none" stroke="#7f9a2a" stroke-width="1"/>
<circle cx="67.11" cy="108.21" r="2.6" fill="none" stroke="#7f9a2a" stroke-width="1"/>
<circle cx="70.14" cy="99.36" r="2.6" fill="none" stroke="#7f9a2a" stroke-width="1"/>
<circle cx="77.22" cy="68.72" r="2.6" fill="none" stroke="#7f9a2a" stroke-width="1"/>
<circle cx="83.28" cy="68.39" r="2.6" fill="none" stroke="#7f9a2a" stroke-width="1"/>
<circle cx="89.34" cy="70.60" r="2.6" fill="none" stroke="#7f9a2a" stroke-width="1"/>
<circle cx="95.81" cy="70.83" r="2.6" fill="none" stroke="#7f9a2a" stroke-width="1"/>
<line x1="71.15" y1="96.48" x2="71.15" y2="93.83" stroke="#2b7f2b" stroke-width="1"/>
<line x1="68.65" y1="93.83" x2="73.65" y2="93.83" stroke="#2b7f2b" stroke-width="1"/>
<line x1="68.65" y1="96.48" x2="73.65" y2="96.48" stroke="#2b7f2b" stroke-width="1"/>
<line x1="71.96" y1="92.50" x2="71.96" y2="89.18" stroke="#2b7f2b" stroke-width="1"/>
<line x1="69.46" y1="89.18" x2="74.46" y2="89.18" stroke="#2b7f2b" stroke-width="1"/>
<line x1="69.46" y1="92.50" x2="74.46" y2="92.50" stroke="#2b7f2b" stroke-width="1"/>
<line x1="73.98" y1="77.68" x2="73.98" y2="59.77" stroke="#2b7f2b" stroke-width="1"/>
<line x1="71.48" y1="59.77" x2="76.48" y2="59.77" stroke="#2b7f2b" stroke-width="1"/>
<line x1="71.48" y1="77.68" x2="76.48" y2="77.68" stroke="#2b7f2b" stroke-width="1"/>
<line x1="83.48" y1="74.92" x2="83.48" y2="59.88" stroke="#2b7f2b" stroke-width="1"/>
<line x1="80.98" y1="59.88" x2="85.98" y2="59.88" stroke="#2b7f2b" stroke-width="1"/>
<line x1="80.98" y1="74.92" x2="85.98" y2="74.92" stroke="#2b7f2b" stroke-width="1"/>
<line x1="89.34" y1="82.11" x2="89.34" y2="65.74" stroke="#2b7f2b" stroke-width="1"/>
<line x1="86.84" y1="65.74" x2="91.84" y2="65.74" stroke="#2b7f2b" stroke-width="1"/>
<line x1="86.84" y1="82.11" x2="91.84" y2="82.11" stroke="#2b7f2b" stroke-width="1"/>
<circle cx="46.90" cy="144.15" r="2.6" fill="none" stroke="#2b7f2b" stroke-width="1"/>
<circle cx="49.93" cy="142.49" r="2.6" fill="none" stroke="#2b7f2b" stroke-width="1"/>
<circle cx="52.96" cy="140.28" r="2.6" fill="none" stroke="#2b7f2b" stroke-width="1"/>
<circle cx="55.99" cy="134.75" r="2.6" fill="none" stroke="#2b7f2b" stroke-width="1"/>
<circle cx="58.42" cy="127.01" r="2.6" fill="none" stroke="#2b7f2b" stroke-width="1"/>
<circle cx="62.46" cy="119.60" r="2.6" fill="none" stroke="#2b7f2b" stroke-width="1"/>
<circle cx="65.70" cy="115.95" r="2.6" fill="none" stroke="#2b7f2b" stroke-width="1"/>
<circle cx="66.71" cy="113.18" r="2.6" fill="none" stroke="#2b7f2b" stroke-width="1"/>
<circle cx="68.73" cy="105.22" r="2.6" fill="none" stroke="#2b7f2b" stroke-width="1"/>
<circle cx="71.15" cy="95.16" r="2.6" fill="none" stroke="#2b7f2b" stroke-width="1"/>
<circle cx="71.96" cy="90.84" r="2.6" fill="none" stroke="#2b7f2b" stroke-width="1"/>
<circle cx="73.98" cy="68.72" r="2.6" fill="none" stroke="#2b7f2b" stroke-width="1"/>
<circle cx="83.48" cy="67.40" r="2.6" fill="none" stroke="#2b7f2b" stroke-width="1"/>
<circle cx="89.34" cy="73.92" r="2.6" fill="none" stroke="#2b7f2b" stroke-width="1"/>
<circle cx="108.3" cy="44" r="2.5" fill="none" stroke="#111" stroke-width="1"/>
<text x="116.00" y="47.40" font-size="9" text-anchor="start" fill="#000" >WT</text>
<circle cx="108.3" cy="57.8" r="2.5" fill="none" stroke="#1f4fff" stroke-width="1"/>
<text x="116.00" y="61.20" font-size="9" text-anchor="start" fill="#000" >A30P</text>
<circle cx="108.3" cy="71.4" r="2.5" fill="none" stroke="#f20d1f" stroke-width="1"/>
<text x="116.00" y="74.80" font-size="9" text-anchor="start" fill="#000" >A53T</text>
<circle cx="147.5" cy="44" r="2.5" fill="none" stroke="#7f9a2a" stroke-width="1"/>
<text x="155.20" y="47.40" font-size="9" text-anchor="start" fill="#000" >&#916;123&#8722;140</text>
<circle cx="147.5" cy="57.8" r="2.5" fill="none" stroke="#2b7f2b" stroke-width="1"/>
<text x="155.20" y="61.20" font-size="9" text-anchor="start" fill="#000" >&#916;104&#8722;140</text>
</svg></body></html>
